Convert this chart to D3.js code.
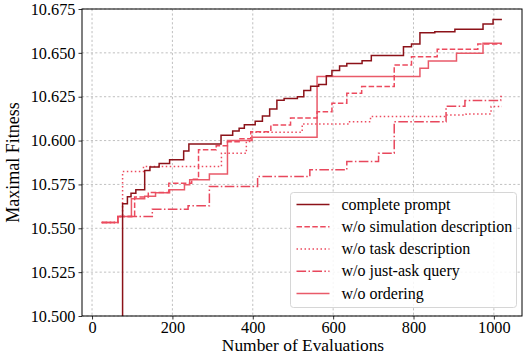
<!DOCTYPE html>
<html>
<head>
<meta charset="utf-8">
<script src="https://cdn.jsdelivr.net/npm/d3@7"></script>
<style>
  body { margin: 0; background: #fff; }
  svg { font-family: "Liberation Serif", "Times New Roman", serif; }
</style>
</head>
<body>
<div class="chart"></div>
<script>
// Chart size
const w = 524;
const h = 355;
const margin = { top: 9, right: 2, bottom: 39, left: 82 };

// Data: [evaluations, maximal fitness]
const completePrompt = [
  [70, 10.45], [76, 10.564], [88, 10.568], [97, 10.57], [109, 10.572], [131, 10.583],
  [144, 10.585], [167, 10.587], [193, 10.589], [228, 10.594], [241, 10.598], [321, 10.603],
  [350, 10.6055], [366, 10.607], [379, 10.609], [406, 10.611], [424, 10.614], [442, 10.618],
  [460, 10.623], [478, 10.624], [511, 10.625], [527, 10.6285], [544, 10.631], [564, 10.632],
  [583, 10.637], [597, 10.64], [616, 10.6425], [634, 10.644], [672, 10.6455], [695, 10.6485],
  [775, 10.6535], [795, 10.655], [816, 10.6615], [853, 10.662], [903, 10.6635], [973, 10.6665],
  [998, 10.669], [1020, 10.669]
];
const noSimulation = [
  [24, 10.5533], [64, 10.5567], [106, 10.5678], [140, 10.5704], [191, 10.5757], [248, 10.578],
  [265, 10.5947], [309, 10.597], [337, 10.5993], [366, 10.601], [395, 10.6051], [445, 10.6089],
  [494, 10.6129], [560, 10.6165], [597, 10.6213], [634, 10.627], [671, 10.6308], [752, 10.6431],
  [795, 10.6478], [859, 10.6521], [960, 10.6551], [1020, 10.6551]
];
const noTask = [
  [24, 10.5533], [64, 10.5567], [76, 10.5823], [128, 10.5852], [322, 10.5928], [384, 10.5994],
  [398, 10.6048], [523, 10.6095], [639, 10.6108], [693, 10.6137], [881, 10.6146], [931, 10.6152],
  [993, 10.6194], [1020, 10.6194]
];
const noJustAsk = [
  [24, 10.5533], [64, 10.5567], [150, 10.5609], [239, 10.5628], [292, 10.5738], [412, 10.5795],
  [542, 10.5833], [634, 10.588], [713, 10.5928], [752, 10.6108], [881, 10.6195], [928, 10.6228],
  [1017, 10.6251], [1020, 10.6251]
];
const noOrdering = [
  [24, 10.5533], [64, 10.5567], [98, 10.5668], [131, 10.5682], [158, 10.5702], [193, 10.5719],
  [230, 10.5748], [243, 10.5776], [292, 10.5809], [337, 10.6], [398, 10.6019], [560, 10.6365],
  [816, 10.6412], [837, 10.6454], [907, 10.6498], [973, 10.6555], [1020, 10.6555]
];

const seriesNames = [
  "complete prompt", "w/o simulation description", "w/o task description",
  "w/o just-ask query", "w/o ordering"
];
const xTicks = [0, 200, 400, 600, 800, 1000];
const yTicks = [10.5, 10.525, 10.55, 10.575, 10.6, 10.625, 10.65, 10.675];

const series = [
  { name: seriesNames[0], data: completePrompt, color: "#8c1219", dash: null },
  { name: seriesNames[1], data: noSimulation, color: "#ec4a5e", dash: "5.5,2.4" },
  { name: seriesNames[2], data: noTask, color: "#ec4a5e", dash: "1.5,2.5" },
  { name: seriesNames[3], data: noJustAsk, color: "#e8475c", dash: "9.6,2.4,1.5,2.4" },
  { name: seriesNames[4], data: noOrdering, color: "#e95a69", dash: null }
];

const svg = d3.select(".chart").append("svg").attr("width", w).attr("height", h);

// Scales
const xScale = d3.scaleLinear().domain([-25, 1070]).range([margin.left, w - margin.right]);
const yScale = d3.scaleLinear().domain([10.5, 10.675]).range([h - margin.bottom, margin.top]);

// Grid
svg.append("g").selectAll("line").data(xTicks).enter().append("line")
  .attr("x1", (d) => xScale(d)).attr("x2", (d) => xScale(d))
  .attr("y1", margin.top).attr("y2", h - margin.bottom)
  .attr("stroke", "#b0b0b0").attr("stroke-width", 0.8).attr("stroke-dasharray", "2.2,2.2");
svg.append("g").selectAll("line").data(yTicks).enter().append("line")
  .attr("x1", margin.left).attr("x2", w - margin.right)
  .attr("y1", (d) => yScale(d)).attr("y2", (d) => yScale(d))
  .attr("stroke", "#b0b0b0").attr("stroke-width", 0.8).attr("stroke-dasharray", "2.2,2.2");

// Clip for lines
svg.append("clipPath").attr("id", "clip").append("rect")
  .attr("x", margin.left).attr("y", margin.top)
  .attr("width", w - margin.left - margin.right)
  .attr("height", h - margin.top - margin.bottom);

const line = d3.line()
  .x((d) => xScale(d[0]))
  .y((d) => yScale(d[1]))
  .curve(d3.curveStepAfter);

// Draw in reverse so complete prompt ends up on top
const linesG = svg.append("g").attr("clip-path", "url(#clip)");
series.slice().reverse().forEach((s) => {
  linesG.append("path")
    .attr("d", line(s.data))
    .attr("fill", "none")
    .attr("stroke", s.color)
    .attr("stroke-width", 1.5)
    .attr("stroke-dasharray", s.dash);
});

// Axes
const xAxis = svg.append("g")
  .attr("transform", `translate(0, ${h - margin.bottom})`)
  .call(d3.axisBottom(xScale).tickValues(xTicks).tickSize(3.5).tickPadding(1.5).tickFormat(d3.format("d")));
const yAxis = svg.append("g")
  .attr("transform", `translate(${margin.left}, 0)`)
  .call(d3.axisLeft(yScale).tickValues(yTicks).tickSize(3.5).tickPadding(3).tickFormat(d3.format(".3f")));
[xAxis, yAxis].forEach((a) => {
  a.selectAll("text").attr("font-size", 16.3).attr("fill", "#000")
    .attr("font-family", "Liberation Serif");
  a.selectAll("line").attr("stroke", "#000").attr("stroke-width", 0.8);
  a.select(".domain").remove();
});

// Frame
svg.append("rect")
  .attr("x", margin.left).attr("y", margin.top)
  .attr("width", w - margin.left - margin.right)
  .attr("height", h - margin.top - margin.bottom)
  .attr("fill", "none").attr("stroke", "#000").attr("stroke-width", 1);

// Axis labels
svg.append("text")
  .text("Number of Evaluations")
  .attr("text-anchor", "middle")
  .attr("x", 303)
  .attr("y", 351)
  .attr("font-size", 17.4);
svg.append("text")
  .text("Maximal Fitness")
  .attr("text-anchor", "middle")
  .attr("transform", `translate(19, ${(margin.top + h - margin.bottom) / 2}) rotate(-90)`)
  .attr("font-size", 18);

// Legend
const legend = svg.append("g").attr("transform", "translate(290.5, 192.5)");
legend.append("rect")
  .attr("width", 226).attr("height", 115).attr("rx", 3)
  .attr("fill", "#fff").attr("fill-opacity", 0.85)
  .attr("stroke", "#d6d6d6").attr("stroke-width", 1);
series.forEach((s, i) => {
  const y = 12 + i * 22.25;
  legend.append("line")
    .attr("x1", 6).attr("x2", 39).attr("y1", y).attr("y2", y)
    .attr("stroke", s.color).attr("stroke-width", 1.5)
    .attr("stroke-dasharray", s.dash);
  legend.append("text")
    .text(s.name)
    .attr("x", 51).attr("y", y + 5)
    .attr("font-size", 16);
});
</script>
</body>
</html>
